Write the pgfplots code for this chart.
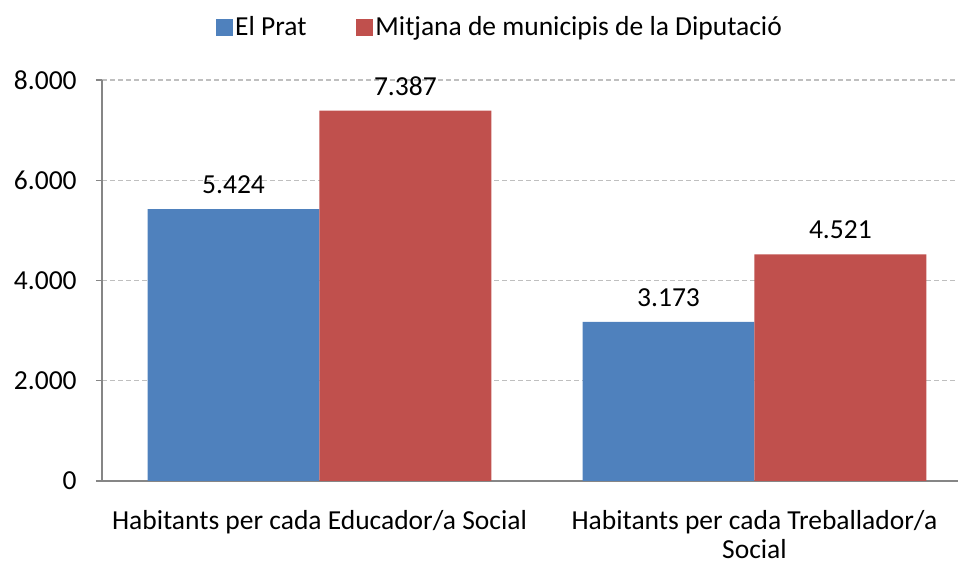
\documentclass[border=0pt]{standalone}
\usepackage{pgfplots}
\pgfplotsset{compat=1.18}
\usepackage{fontspec}
\setmainfont{Carlito}
\definecolor{prat}{HTML}{4F81BD}
\definecolor{mitjana}{HTML}{C0504D}
\definecolor{axisgray}{HTML}{868686}
\definecolor{gridgray}{HTML}{BFBFBF}
\begin{document}
\fontsize{27.5bp}{29bp}\selectfont
\begin{tikzpicture}
\path[use as bounding box] (0,0) rectangle (958bp,563bp);
\begin{axis}[
    at={(102bp,82bp)}, anchor=south west,
    width=856bp, height=401bp, scale only axis,
    xmin=-0.5, xmax=1.468,
    ymin=0, ymax=8000,
    axis x line*=bottom, axis y line*=left,
    axis line style={axisgray, line width=1.3bp, -},
    xtick={0,1},
    xticklabels={Habitants per cada Educador/a Social, {Habitants per cada Treballador/a\\Social}},
    x tick label style={align=center, inner sep=0pt, yshift=-23bp},
    major x tick style={draw=none},
    extra x ticks={-0.5,0.5},
    extra x tick labels={},
    extra x tick style={major tick length=7bp, tick align=outside, tick style={axisgray, line width=1.3bp}},
    ytick={0,2000,4000,6000,8000},
    tick align=outside,
    major tick length=6bp,
    y tick style={axisgray, line width=1.3bp},
    y tick label style={xshift=-10bp},
    scaled y ticks=false,
    /pgf/number format/1000 sep={.},
    /pgf/number format/assume math mode=true,
    ymajorgrids=true,
    grid style={gridgray, dash pattern=on 5bp off 3bp, line width=1.3bp},
    ybar, bar width=0.395,
    nodes near coords,
    nodes near coords style={yshift=6bp, black},
    legend style={at={(0.465,1.130)}, anchor=center, draw=none, fill=none,
        legend columns=2, /tikz/every even column/.append style={column sep=48bp}},
    legend image code/.code={\fill[#1] (0bp,-8bp) rectangle (17bp,9bp);},
]
\addplot[fill=prat, draw=none, bar shift=-0.1975] coordinates {(0,5424) (1,3173)};
\addplot[fill=mitjana, draw=none, bar shift=0.1975] coordinates {(0,7387) (1,4521)};
\legend{El Prat, Mitjana de municipis de la Diputació}
\end{axis}
\end{tikzpicture}
\end{document}
